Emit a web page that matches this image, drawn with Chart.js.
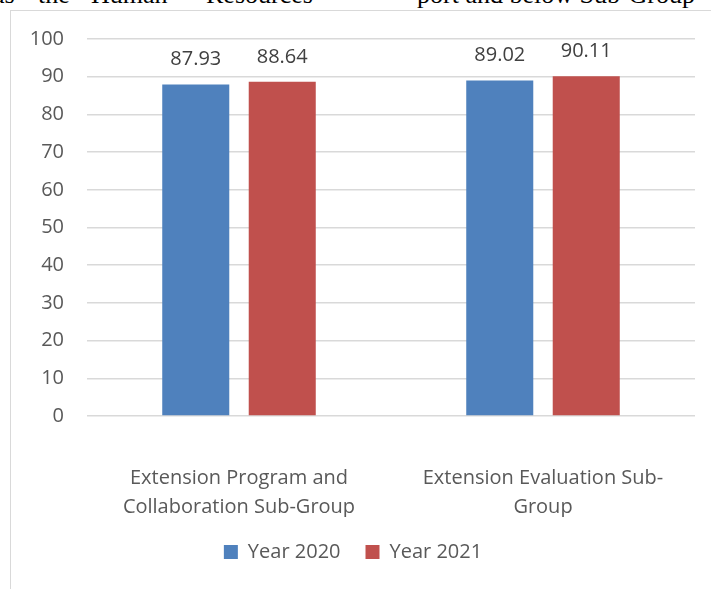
<!DOCTYPE html>
<html>
<head>
<meta charset="utf-8">
<script src="https://cdn.jsdelivr.net/npm/chart.js@4.4.1/dist/chart.umd.min.js"></script>
<style>
  html, body { margin: 0; padding: 0; background: #fff; overflow: hidden; }
  body { width: 711px; height: 589px; position: relative; }
  #doc-text {
    position: absolute; top: -19px; left: 0; width: 711px; height: 30px;
    font-family: "Liberation Serif", "DejaVu Serif", serif; font-size: 26px; line-height: 28px; color: #000;
    white-space: nowrap;
  }
  #doc-text span { position: absolute; top: 0; }
  #frame {
    position: absolute; left: 10px; top: 10px; width: 740px; height: 620px;
    border: 1.5px solid #d9d9d9; box-sizing: border-box;
  }
  #chart-wrap { position: absolute; left: 11px; top: 11px; width: 726px; height: 600px; }
</style>
</head>
<body>
<div id="doc-text">
  <span style="left:-7px">as</span>
  <span style="left:38px">the</span>
  <span style="left:91px">Human</span>
  <span style="left:206px">Resources</span>
  <span style="left:417px">port and below Sub-Group</span>
</div>
<div id="frame"></div>
<div id="chart-wrap"><canvas id="chart" width="726" height="600"></canvas></div>
<script>
const categories = [
  ['Extension Program and', 'Collaboration Sub-Group'],
  ['Extension Evaluation Sub-', 'Group'],
];
const year2020 = [87.93, 89.02];
const year2021 = [88.64, 90.11];
const yTicks = [0, 10, 20, 30, 40, 50, 60, 70, 80, 90, 100];

const BLUE = '#4F81BD';
const RED = '#C0504D';
const TEXT = '#595959';
const FONT = '"Open Sans", "Noto Sans", sans-serif';

// values printed above each bar
const barValueLabels = {
  id: 'barValueLabels',
  afterDatasetsDraw(chart) {
    const ctx = chart.ctx;
    ctx.save();
    ctx.font = `20px ${FONT}`;
    ctx.fillStyle = '#404040';
    ctx.textAlign = 'center';
    ctx.textBaseline = 'bottom';
    chart.data.datasets.forEach((ds, i) => {
      chart.getDatasetMeta(i).data.forEach((bar, j) => {
        ctx.fillText(ds.data[j].toFixed(2), bar.x, bar.y - 15);
      });
    });
    ctx.restore();
  },
};

new Chart(document.getElementById('chart'), {
  type: 'bar',
  data: {
    labels: categories,
    datasets: [
      { label: 'Year 2020', data: year2020, backgroundColor: BLUE },
      { label: 'Year 2021', data: year2021, backgroundColor: RED },
    ],
  },
  options: {
    responsive: false,
    animation: false,
    categoryPercentage: 0.569,
    barPercentage: 0.775,
    layout: { padding: { top: 28, right: 42, bottom: 39, left: 0 } },
    scales: {
      x: {
        grid: { display: false, drawTicks: false },
        border: { display: false },
        ticks: { color: TEXT, font: { family: FONT, size: 20, lineHeight: 1.45 }, padding: 48 },
        afterFit: (scale) => { scale.height = 101; },
      },
      y: {
        min: 0,
        max: 100,
        afterBuildTicks: (scale) => { scale.ticks = yTicks.map((v) => ({ value: v })); },
        grid: { color: '#d9d9d9', lineWidth: 1.5, drawTicks: false },
        border: { display: false },
        ticks: { color: TEXT, font: { family: FONT, size: 20 }, padding: 23 },
        afterFit: (scale) => {
          scale.width = 76;
          scale.paddingTop = 0;
          scale.paddingBottom = 0;
        },
      },
    },
    plugins: {
      tooltip: { enabled: false },
      legend: {
        position: 'bottom',
        labels: {
          color: TEXT,
          font: { family: FONT, size: 20 },
          boxWidth: 14,
          boxHeight: 14,
          padding: 25,
        },
      },
    },
  },
  plugins: [barValueLabels],
});
</script>
</body>
</html>
